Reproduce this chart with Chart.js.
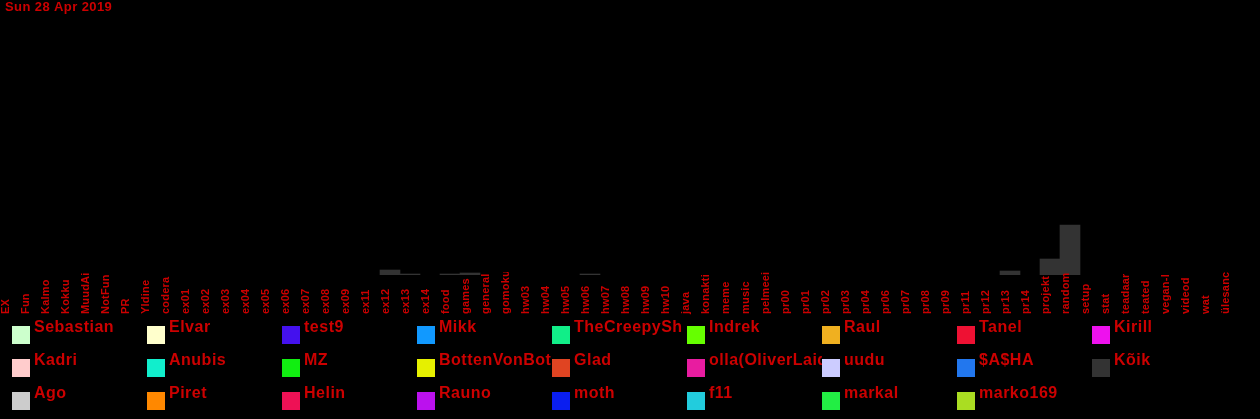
<!doctype html>
<html lang="et">
  <head>
    <meta charset="UTF-8" />
    <title>Sun 28 Apr 2019</title>
    <script src="https://cdn.jsdelivr.net/npm/chart.js@4.4.0/dist/chart.umd.min.js"></script>
    <style>
      html, body { margin: 0; padding: 0; background: #000; }
      #wrap { width: 1260px; height: 419px; position: relative; }
    </style>
  </head>
  <body>
    <div id="wrap"><canvas id="chart"></canvas></div>
    <script>
// channels on the x axis
const channels = ['EX', 'Fun', 'Kalmo', 'Kokku', 'MuudAi', 'NotFun', 'PR', 'Yldine', 'codera',
  'ex01', 'ex02', 'ex03', 'ex04', 'ex05', 'ex06', 'ex07', 'ex08', 'ex09', 'ex11', 'ex12', 'ex13', 'ex14',
  'food', 'games', 'general', 'gomoku', 'hw03', 'hw04', 'hw05', 'hw06', 'hw07', 'hw08', 'hw09', 'hw10',
  'java', 'konakti', 'meme', 'music', 'pelmeei', 'pr00', 'pr01', 'pr02', 'pr03', 'pr04', 'pr06', 'pr07',
  'pr08', 'pr09', 'pr11', 'pr12', 'pr13', 'pr14', 'projekt', 'random', 'setup', 'stat', 'teadaar',
  'teated', 'vegan-l', 'videod', 'wat', 'ülesanc'];

// users, in legend order (column by column)
const users = ['Sebastian', 'Kadri', 'Ago', 'Elvar', 'Anubis', 'Piret', 'test9', 'MZ', 'Helin',
  'Mikk', 'BottenVonBot', 'Rauno', 'TheCreepySh', 'Glad', 'moth', 'Indrek', 'olla(OliverLaid', 'f11',
  'Raul', 'uudu', 'markal', 'Tanel', '$A$HA', 'marko169', 'Kirill', 'Kõik'];

const userColors = ['#ccffcc', '#ffcccc', '#cccccc', '#ffffcc', '#11eecc', '#ff8800', '#4411ee', '#11ee11', '#ee1155',
  '#1199ff', '#e6f000', '#bb11ee', '#11ee88', '#e04422', '#0a1ef0', '#66ff00', '#e81ca0', '#22ccdd',
  '#f0b020', '#ccccff', '#22ee44', '#ee1133', '#2277ee', '#aadd22', '#ee11ee', '#333333'];

// message counts of "Kõik" per channel (null = nothing), the other users have no bars this day
const koik = [null, null, null, null, null, null, null, null, null,
  null, null, null, null, null, null, null, null, null, null, 5, 1, null,
  1, 2, null, null, null, null, null, 1, null, null, null, null,
  null, null, null, null, null, null, null, null, null, null, null, null,
  null, null, null, null, 4, null, 16, 50, null, null, null,
  null, null, null, null, null];

const yMax = 260;
const red = '#cc0000';

const datasets = users.map((u, i) => ({
  label: u,
  data: u === 'Kõik' ? koik : [],
  backgroundColor: userColors[i],
  borderWidth: 0
}));

const extras = {
  id: 'extras',
  afterDraw(chart) {
    const ctx = chart.ctx;
    const x = chart.scales.x;
    ctx.save();
    // title
    ctx.fillStyle = red;
    ctx.font = 'bold 13px "Liberation Sans", Arial, sans-serif';
    ctx.letterSpacing = '0.4px';
    ctx.textBaseline = 'alphabetic';
    ctx.textAlign = 'left';
    ctx.fillText('Sun 28 Apr 2019', 5, 11);

    // rotated channel labels, start at the bottom
    ctx.save();
    ctx.beginPath();
    ctx.rect(0, 272, 1260, 50);
    ctx.clip();
    ctx.font = 'bold 11px "Liberation Sans", Arial, sans-serif';
    ctx.letterSpacing = '0.2px';
    channels.forEach((c, i) => {
      const px = x.getPixelForValue(i) - 1;
      ctx.save();
      ctx.translate(px, 314);
      ctx.rotate(-Math.PI / 2);
      ctx.fillText(c, 0, 0);
      ctx.restore();
    });
    ctx.restore();

    // legend grid, 9 columns x 3 rows
    ctx.font = 'bold 16px "Liberation Sans", Arial, sans-serif';
    ctx.letterSpacing = '0.5px';
    chart.data.datasets.forEach((ds, i) => {
      const col = Math.floor(i / 3);
      const row = i % 3;
      const lx = 12 + col * 135;
      const ly = 326 + row * 33;
      ctx.fillStyle = ds.backgroundColor;
      ctx.fillRect(lx, ly, 18, 18);
      ctx.save();
      ctx.beginPath();
      ctx.rect(lx + 20, ly - 12, 115, 30);
      ctx.clip();
      ctx.fillStyle = red;
      ctx.fillText(ds.label, lx + 22, ly + 6);
      ctx.restore();
    });
    ctx.restore();
  }
};

new Chart(document.getElementById('chart'), {
  type: 'bar',
  data: { labels: channels, datasets: datasets },
  options: {
    responsive: true,
    maintainAspectRatio: false,
    animation: false,
    layout: { padding: { left: 0, right: 20, top: 15, bottom: 144 } },
    plugins: { legend: { display: false }, tooltip: { enabled: false } },
    datasets: { bar: { categoryPercentage: 1, barPercentage: 1 } },
    scales: {
      x: { display: false, stacked: true, grid: { display: false } },
      y: { display: false, stacked: true, min: 0, max: yMax }
    }
  },
  plugins: [extras]
});
    </script>
  </body>
</html>
